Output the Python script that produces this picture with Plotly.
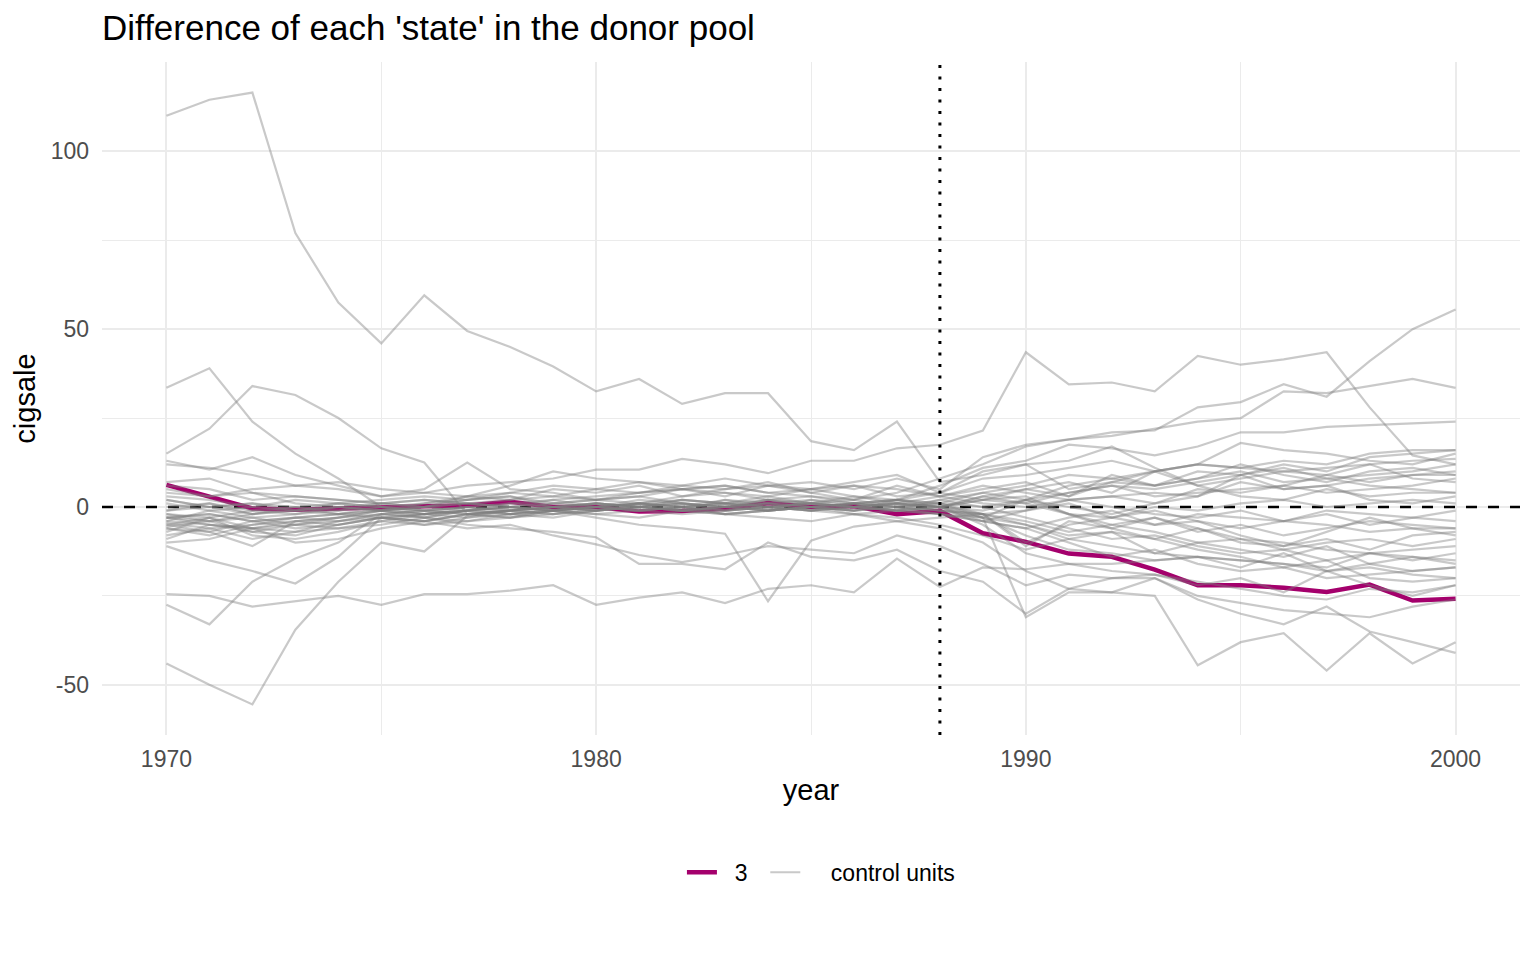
import plotly.graph_objects as go

years = list(range(1970, 2001))

# treated unit (state 3): gap between actual and synthetic cigsale
state_03 = [6.2, 2.8, -0.4, -0.8, -0.4, 0, 0.2, 0.4, 1.5, 0,
            0, -1.3, -1.1, -0.5, 1.1, 0, 0.3, -2, -1.1, -7.4,
            -9.8, -13.1, -14, -17.6, -22, -22, -22.7, -23.9, -21.8, -26.3,
            -25.8]

# donor pool (placebo gaps)
state_01 = [110, 114.5, 116.5, 77, 57.5, 46, 59.5, 49.5, 45, 39.5,
            32.5, 36, 29, 32, 32, 18.5, 16, 24, 7, 9,
            12, 5, 7, 10, 12, 11, 13, 12, 15, 16, 16]
state_02 = [4, 3, 5, 6, 5, 3, 4, 6, 7, 8,
            10.5, 10.5, 13.5, 12, 9.5, 13, 13, 16.5, 17.5, 21.5,
            43.5, 34.5, 35, 32.5, 42.5, 40, 41.5, 43.5, 28, 14.5, 12]
state_04 = [-3, -4, -2, -1, 0, 1, 2, 1, 0, 2,
            3, 4, 5, 6, 4, 3, 2, 4, 8, 12,
            17, 19, 21, 21.5, 28, 29.5, 34.5, 31, 41, 50, 55.5]
state_05 = [2, 0, 1, -1, -2, -1, 0, 1, 2, 3,
            5, 4, 6, 5, 6, 7, 5, 8, 5, 14,
            17.5, 19, 20, 22, 24, 25, 32.5, 32, 34, 36, 33.5]
state_06 = [33.5, 39, 24, 15, 8, 0, -2, -1, 0, 1,
            2, 1, 3, 4, 2, 3, 1, 2, 6, 11,
            13, 17.5, 16.5, 14.5, 17, 21, 21, 22.5, 23, 23.5, 24]
state_07 = [15, 22, 34, 31.5, 25, 16.5, 12.5, -2, -1, -2,
            -1, 0, 2, 1, 3, 1, 0, -1, 2, 4,
            6, 9, 8, 10, 12, 18, 16, 15, 13, 12, 15]
state_08 = [13, 10.5, 14, 9, 6, 3, 5, 12.5, 5, 4,
            2, 3, 1, 0, 2, 1, 3, 2, 4, 10,
            12, 13, 17, 11, 6, 8, 10, 11, 12, 13, 13.5]
state_09 = [12, 11, 9, 6, 7, 5, 4, 3, 6, 10,
            8, 7, 5, 6, 4, 5, 3, 1, 3, 1,
            0, 2, 3, 4, 3, 7, 5, 6, 8, 9, 10]
state_10 = [6, 5, 2, 3, 2, 1, 0, 2, 3, 1,
            2, 4, 5, 3, 6, 4, 2, 6, 3, 5,
            7, 3, 9, 6, 8, 12, 9, 7, 10, 11, 9]
state_11 = [5, 3, 4, 1, 0, -1, 1, 2, 3, 0,
            1, 0, -1, 2, 0, 1, 2, 0, 1, 0,
            2, 4, 6, 3, 4, 5, 6, 4, 5, 6, 8]
state_12 = [3, 2, 0, -1, 1, 0, -1, 0, 1, 2,
            0, 1, 2, 1, 0, -1, 1, 2, 0, 2,
            5, 7, 4, 10, 6, 3, 2, 5, 3, 4, 4]
state_13 = [2, 0, 1, 0, -1, 1, 2, 1, 0, -1,
            0, 2, 1, 0, -1, 2, 1, 0, -1, -3,
            2, 0, -2, 1, 3, 9, 5, 6, 2, 1, 3]
state_14 = [-1, 1, -2, 0, 1, 0, -1, 0, -1, 1,
            0, -1, 0, 1, 2, 0, -1, 1, 0, 3,
            1, -2, -3, 0, -1, 1, 2, 0, 1, 2, 1]
state_15 = [-2, -3, -1, -2, 0, -1, 0, -1, 1, 0,
            -1, 0, 1, -1, 0, 1, 0, -1, -2, -4,
            -6, -3, -1, -5, -2, -3, -4, -1, -2, -3, -4]
state_16 = [-3, -2, -4, -3, -2, 0, -1, 0, -2, -1,
            0, 1, -1, 0, 1, -1, 0, 1, -1, -2,
            -11, -4, -6, -3, -7, -5, -8, -6, -4, -5, -6]
state_17 = [-4, -1, -3, -5, -3, -1, -2, -1, 0, -1,
            0, 1, 0, -2, -1, 0, 1, 0, 1, -3,
            -5, -8, -7, -9, -6, -10, -11, -9, -12, -8, -7]
state_18 = [-4, -5, -6, -4, -3, -2, -1, -2, -1, 0,
            1, 0, -1, 0, 1, 0, -1, 0, 2, 0,
            -3, -6, -9, -8, -11, -13, -12, -10, -9, -11, -9]
state_19 = [-4.5, -6, -5, -3, -4, -2, -3, -1, 0, -1,
            0, -1, 0, 1, 0, -1, 0, 1, 0, -1,
            2, -2, -5, -7, -10, -9, -12, -15, -13, -12, -11]
state_20 = [-5, -3, -6, -7, -4, -2, -1, -2, -1, 0,
            -1, 0, 1, 0, -1, 0, 1, 2, 1, -2,
            -5, -9, -11, -13, -14, -15, -16, -17, -13, -15, -13]
state_21 = [-5, -7, -4, -6, -5, -3, -2, -1, -2, -1,
            0, 1, 0, -1, 0, 1, 0, -1, -2, -3,
            -8, -12, -13, -15, -14, -17, -13, -18, -16, -14, -15]
state_22 = [-5.5, -4, -7, -5, -6, -4, -2, -3, -1, 0,
            1, 0, -1, 0, 1, 2, 0, 1, 0, -4,
            -6, -10, -14, -12, -16, -18, -17, -20, -19, -18, -17]
state_23 = [-6, -8, -5, -4, -5, -3, -4, -2, -1, -2,
            0, -1, 0, 1, 0, -1, 0, 1, 0, 2,
            3, -2, -6, -9, -12, -14, -17, -15, -20, -21, -20]
state_24 = [-6, -7, -11, -4, -3, -1, -2, 0, -1, 0,
            1, 0, -1, 0, -1, 0, 1, -1, 0, -5,
            -13, -16, -18, -19, -22, -20, -24, -18, -22, -25, -22]
state_25 = [-7, -3, -8, -9, -7, -4, -5, -3, -2, -1,
            0, -1, -2, -1, 0, 1, 0, -1, 0, -2,
            -10, -5, -3, -1, -4, -8, -11, -7, -3, -6, -8]
state_26 = [-8, -6, -9, -7, -6, -5, -3, -4, -2, -3,
            -1, 0, -1, -2, -1, 0, -1, 0, -2, -4,
            -1, 2, 3, 1, 5, 4, 6, 9, 12, 8, 7]
state_27 = [-9, -5, -7, -8, -5, -3, -4, -2, -3, -1,
            -2, -1, 0, -1, 0, -1, -2, -1, 0, 3,
            5, 3, 7, 6, 8, 10, 7, 8, 9, 10, 12]
state_28 = [-11, -15, -18, -21.5, -14, -3, -5, -4, -3, -2,
            -1, 0, 1, 0, 2, 1, 0, 2, 1, 4,
            2, 6, 8, 6, 10, 9, 11, 8, 6, 5, 4]
state_29 = [-10, -9, -6, -10, -9, -6, -4, -2, -3, -1,
            -2, -3, -1, -2, -3, -4, -2, -3, -5, -8,
            -12, -9, -7, -13, -10, -12, -14, -11, -16, -18, -17]
state_30 = [-27.5, -33, -21, -14.5, -10, -2, -3, -1, -2, 0,
            -1, 1, 0, -2, -1, 0, -2, -4, -6, -10,
            -18, -23, -24, -20, -26, -30, -33, -28, -35, -38, -41]
state_31 = [-24.5, -25, -28, -26.5, -25, -27.5, -24.5, -24.5, -23.5, -22,
            -27.5, -25.5, -24, -27, -23, -22, -24, -14.5, -22.5, -17,
            -17.5, -16, -16, -15, -14, -15, -16, -18, -17, -19, -20]
state_32 = [-44, -50, -55.5, -34.5, -21, -10, -12.5, -2.5, -1, 0,
            -1, 1, 0, 2, 1, 0, -1, 2, 0, -3,
            -31, -24, -24, -25, -44.5, -38, -35.5, -46, -35.5, -44, -38]
state_33 = [-3, -2, -4, -3, -2, -1, -3, -5, -6, -7,
            -8.5, -16, -16, -17.5, -10, -14, -15, -12, -18, -21,
            -30, -23, -20, -20, -25, -27, -29, -30, -31, -28, -26]
state_34 = [-1, 0, -2, -1, 0, -1, 0, 1, 0, -1,
            -3, -5, -6, -7.5, -26.5, -9.5, -5.5, -4, -3, -2,
            -1, 1, -3, -5, -4, -6, -4, -2, -5, -3, -1]
state_35 = [0, 1, -1, 0, -2, -3, -4, -6, -5, -8,
            -10.5, -13.5, -15.5, -13.5, -11, -12, -13, -8, -11, -16,
            -22, -19, -20, -19, -21, -23, -25, -26, -23, -24, -22]
state_36 = [1, -1, 0, 2, 1, 2, 3, 2, 4, 3,
            2, 3, 5, 4, 3, 5, 6, 3, 4, 8,
            9, 11, 13, 10, 12, 11, 10, 9, 7, 9, 9]
state_37 = [-2, -4, -3, -2, -1, 0, 1, 3, 2, 5,
            4, 6, 3, 5, 7, 4, 6, 5, 3, 6,
            4, 2, 0, -2, -3, -1, -4, -5, -7, -6, -6]
state_38 = [7, 8, 4, 3, 2, 1, 0, 3, 4, 6,
            5, 7, 6, 8, 6, 5, 7, 9, 4, 2,
            1, 4, 6, 5, 7, 9, 12, 10, 14, 15, 16]
state_39 = [-3, -5, -6, -5, -4, -3, -2, -1, 0, -1,
            1, 0, 2, 1, -1, 0, 1, 0, -1, -2,
            -4, -7, -5, -3, -6, -9, -10, -12, -13, -14, -16]

donor_pool = [state_01, state_02, state_04, state_05, state_06, state_07,
              state_08, state_09, state_10, state_11, state_12, state_13,
              state_14, state_15, state_16, state_17, state_18, state_19,
              state_20, state_21, state_22, state_23, state_24, state_25,
              state_26, state_27, state_28, state_29, state_30, state_31,
              state_32, state_33, state_34, state_35, state_36, state_37,
              state_38, state_39]

x_range = [1968.5, 2001.5]
y_range = [-64.1, 125.1]
x_ticks = [1970, 1980, 1990, 2000]
y_ticks = [-50, 0, 50, 100]
y_tick_labels = ["-50", "0", "50", "100"]
treat_year = 1988
ref_level = 0

font = "Liberation Sans, Arial, Helvetica, sans-serif"
W, H = 1520, 944  # page body keeps an 8px margin
nb = "\u00a0"

fig = go.Figure()
# dashed reference line at zero, under the unit lines
fig.add_trace(go.Scatter(
    x=x_range, y=[ref_level, ref_level], mode="lines", showlegend=False,
    line=dict(color="black", width=2.5, dash="11px,11px"), hoverinfo="skip",
))
fig.add_trace(go.Scatter(
    x=years, y=state_03, mode="lines", name=nb * 2 + "3" + nb * 2,
    line=dict(color="#A4006C", width=4.5), hoverinfo="skip",
))
for i, gap in enumerate(donor_pool):
    fig.add_trace(go.Scatter(
        x=years, y=gap, mode="lines", name=nb * 4 + "control units",
        legendgroup="control", showlegend=(i == 0),
        line=dict(color="rgba(127,127,127,0.42)", width=2.2), hoverinfo="skip",
    ))

fig.add_shape(type="line", xref="x", x0=treat_year, x1=treat_year, yref="paper", y0=0, y1=1,
              line=dict(color="black", width=3, dash="3px,8.5px"), layer="above")

fig.update_layout(
    width=W, height=H,
    plot_bgcolor="white", paper_bgcolor="white",
    font=dict(family=font, color="black"),
    margin=dict(l=94, r=8, t=54, b=217),
    title=dict(text="Difference of each 'state' in the donor pool",
               font=dict(size=35, color="black"),
               xref="container", x=94 / W, xanchor="left",
               yref="container", y=1 - 20 / H, yanchor="middle"),
    legend=dict(orientation="h", x=0.507, xanchor="center", y=-0.204, yanchor="middle",
                font=dict(size=23, color="black")),
    showlegend=True,
)
fig.update_xaxes(
    range=x_range, tickmode="array", tickvals=x_ticks, automargin=False,
    showgrid=True, gridcolor="#EBEBEB", gridwidth=2, zeroline=False, showline=False,
    ticks="", ticklabelstandoff=8, tickfont=dict(size=23, color="#4D4D4D"),
    minor=dict(tickvals=[1975, 1985, 1995], showgrid=True, gridcolor="#EBEBEB", gridwidth=1),
    title=dict(text="year", font=dict(size=29, color="black"), standoff=8),
)
fig.update_yaxes(
    range=y_range, tickmode="array", tickvals=y_ticks, ticktext=y_tick_labels, automargin=False,
    showgrid=True, gridcolor="#EBEBEB", gridwidth=2, zeroline=False, showline=False,
    ticks="", ticklabelstandoff=12, tickfont=dict(size=23, color="#4D4D4D"),
    minor=dict(tickvals=[-25, 25, 75], showgrid=True, gridcolor="#EBEBEB", gridwidth=1),
    title=dict(text="cigsale", font=dict(size=29, color="black"), standoff=6),
)

fig.write_html("out.html")
